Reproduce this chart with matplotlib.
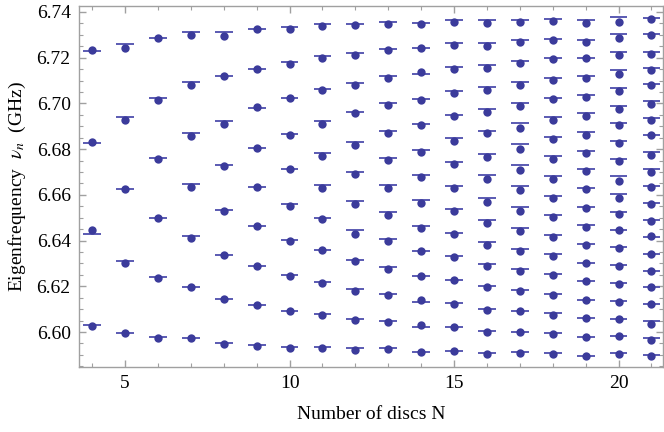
import matplotlib
matplotlib.use("Agg")
import matplotlib.pyplot as plt
from matplotlib.ticker import MultipleLocator, FixedLocator

plt.rcParams['font.family'] = ['Liberation Serif', 'DejaVu Serif']
plt.rcParams['mathtext.fontset'] = 'stix'

# Number of discs
disc_counts = list(range(4, 22))

# Measured eigenfrequencies (GHz), one list per N
meas_04 = [6.7232, 6.6830, 6.6447, 6.6026]
meas_05 = [6.7244, 6.6929, 6.6624, 6.6304, 6.5994]
meas_06 = [6.7285, 6.7013, 6.6758, 6.6498, 6.6236, 6.5975]
meas_07 = [6.7301, 6.7079, 6.6859, 6.6634, 6.6412, 6.6197, 6.5973]
meas_08 = [6.7296, 6.7121, 6.6910, 6.6726, 6.6529, 6.6337, 6.6145, 6.5947]
meas_09 = [6.7326, 6.7152, 6.6983, 6.6806, 6.6633, 6.6462, 6.6288, 6.6118, 6.5940]
meas_10 = [6.7327, 6.7174, 6.7022, 6.6863, 6.6711, 6.6550, 6.6396, 6.6243, 6.6093, 6.5932]
meas_11 = [6.7339, 6.7197, 6.7060, 6.6908, 6.6771, 6.6628, 6.6493, 6.6358, 6.6216, 6.6074, 6.5932]
meas_12 = [6.7342, 6.7210, 6.7081, 6.6957, 6.6816, 6.6691, 6.6558, 6.6428, 6.6310, 6.6179, 6.6054, 6.5922]
meas_13 = [6.7347, 6.7232, 6.7110, 6.6994, 6.6869, 6.6751, 6.6630, 6.6510, 6.6398, 6.6277, 6.6162,
           6.6043, 6.5924]
meas_14 = [6.7347, 6.7244, 6.7137, 6.7013, 6.6905, 6.6786, 6.6678, 6.6564, 6.6456, 6.6353, 6.6245,
           6.6138, 6.6029, 6.5911]
meas_15 = [6.7358, 6.7257, 6.7151, 6.7046, 6.6943, 6.6835, 6.6736, 6.6628, 6.6529, 6.6430, 6.6326,
           6.6227, 6.6124, 6.6020, 6.5915]
meas_16 = [6.7352, 6.7253, 6.7156, 6.7060, 6.6964, 6.6870, 6.6767, 6.6668, 6.6570, 6.6475, 6.6380,
           6.6290, 6.6198, 6.6097, 6.6001, 6.5905]
meas_17 = [6.7356, 6.7270, 6.7178, 6.7082, 6.6989, 6.6894, 6.6799, 6.6710, 6.6622, 6.6528, 6.6442,
           6.6353, 6.6265, 6.6179, 6.6090, 6.5998, 6.5908]
meas_18 = [6.7361, 6.7277, 6.7193, 6.7102, 6.7019, 6.6929, 6.6846, 6.6757, 6.6671, 6.6586, 6.6501,
           6.6414, 6.6332, 6.6248, 6.6162, 6.6075, 6.5991, 6.5905]
meas_19 = [6.7352, 6.7270, 6.7200, 6.7110, 6.7027, 6.6946, 6.6863, 6.6784, 6.6704, 6.6624, 6.6542,
           6.6461, 6.6380, 6.6302, 6.6221, 6.6138, 6.6061, 6.5979, 6.5893]
meas_20 = [6.7356, 6.7285, 6.7210, 6.7130, 6.7056, 6.6977, 6.6904, 6.6825, 6.6749, 6.6662, 6.6587,
           6.6515, 6.6446, 6.6366, 6.6287, 6.6210, 6.6132, 6.6056, 6.5984, 6.5905]
meas_21 = [6.7369, 6.7299, 6.7218, 6.7145, 6.7079, 6.6999, 6.6926, 6.6862, 6.6776, 6.6701, 6.6634,
           6.6558, 6.6485, 6.6421, 6.6342, 6.6267, 6.6199, 6.6122, 6.6036, 6.5966, 6.5897]

# Calculated eigenfrequencies (GHz), one list per N
theo_04 = [6.7228, 6.6827, 6.6428, 6.6029]
theo_05 = [6.7261, 6.6942, 6.6627, 6.6312, 6.5995]
theo_06 = [6.7288, 6.7022, 6.6761, 6.6500, 6.6239, 6.5978]
theo_07 = [6.7314, 6.7092, 6.6869, 6.6646, 6.6421, 6.6199, 6.5975]
theo_08 = [6.7312, 6.7118, 6.6923, 6.6729, 6.6533, 6.6338, 6.6145, 6.5950]
theo_09 = [6.7326, 6.7152, 6.6980, 6.6806, 6.6633, 6.6462, 6.6288, 6.6117, 6.5943]
theo_10 = [6.7334, 6.7180, 6.7025, 6.6866, 6.6711, 6.6558, 6.6404, 6.6249, 6.6094, 6.5935]
theo_11 = [6.7349, 6.7206, 6.7064, 6.6923, 6.6781, 6.6641, 6.6500, 6.6358, 6.6218, 6.6077, 6.5935]
theo_12 = [6.7349, 6.7221, 6.7091, 6.6961, 6.6831, 6.6701, 6.6573, 6.6445, 6.6315, 6.6186, 6.6058, 6.5928]
theo_13 = [6.7358, 6.7238, 6.7120, 6.7000, 6.6881, 6.6761, 6.6643, 6.6523, 6.6405, 6.6286, 6.6167,
           6.6048, 6.5928]
theo_14 = [6.7352, 6.7241, 6.7130, 6.7019, 6.6908, 6.6798, 6.6687, 6.6576, 6.6465, 6.6354, 6.6243,
           6.6132, 6.6021, 6.5912]
theo_15 = [6.7365, 6.7264, 6.7158, 6.7056, 6.6951, 6.6850, 6.6744, 6.6640, 6.6536, 6.6434, 6.6331,
           6.6227, 6.6125, 6.6021, 6.5919]
theo_16 = [6.7364, 6.7264, 6.7167, 6.7070, 6.6975, 6.6878, 6.6780, 6.6685, 6.6585, 6.6490, 6.6393,
           6.6296, 6.6201, 6.6100, 6.6004, 6.5909]
theo_17 = [6.7366, 6.7277, 6.7187, 6.7095, 6.7003, 6.6913, 6.6821, 6.6729, 6.6639, 6.6547, 6.6455,
           6.6364, 6.6274, 6.6182, 6.6091, 6.6000, 6.5911]
theo_18 = [6.7369, 6.7283, 6.7199, 6.7111, 6.7025, 6.6940, 6.6854, 6.6768, 6.6682, 6.6596, 6.6510,
           6.6424, 6.6340, 6.6253, 6.6167, 6.6081, 6.5997, 6.5909]
theo_19 = [6.7364, 6.7279, 6.7200, 6.7118, 6.7038, 6.6957, 6.6873, 6.6793, 6.6711, 6.6630, 6.6548,
           6.6468, 6.6386, 6.6304, 6.6223, 6.6141, 6.6061, 6.5979, 6.5896]
theo_20 = [6.7380, 6.7302, 6.7223, 6.7146, 6.7067, 6.6990, 6.6913, 6.6834, 6.6757, 6.6681, 6.6602,
           6.6525, 6.6447, 6.6370, 6.6291, 6.6214, 6.6137, 6.6059, 6.5982, 6.5906]
theo_21 = [6.7374, 6.7305, 6.7226, 6.7155, 6.7083, 6.7009, 6.6935, 6.6863, 6.6786, 6.6711, 6.6639,
           6.6564, 6.6490, 6.6417, 6.6342, 6.6269, 6.6197, 6.6122, 6.6048, 6.5973, 6.5899]

measured = [meas_04, meas_05, meas_06, meas_07, meas_08, meas_09, meas_10, meas_11, meas_12,
            meas_13, meas_14, meas_15, meas_16, meas_17, meas_18, meas_19, meas_20, meas_21]
theory = [theo_04, theo_05, theo_06, theo_07, theo_08, theo_09, theo_10, theo_11, theo_12,
          theo_13, theo_14, theo_15, theo_16, theo_17, theo_18, theo_19, theo_20, theo_21]

fig = plt.figure(figsize=(6.64, 4.32), dpi=100)
ax = fig.add_axes([0.119, 0.1505, 0.8795, 0.8355])

half = 0.27
line_color = '#5a5ab2'
dot_color = '#3b3b9b'
for n, th, me in zip(disc_counts, theory, measured):
    ax.hlines(th, n - half, n + half, colors=line_color, linewidth=1.4, zorder=2)
    ax.plot([n] * len(me), me, 'o', color=dot_color, markersize=6.0,
            markeredgewidth=0, zorder=3)

ax.set_xlim(3.6, 21.35)
ax.set_ylim(6.5847, 6.7426)

ax.xaxis.set_major_locator(FixedLocator([5, 10, 15, 20]))
ax.xaxis.set_minor_locator(FixedLocator([n for n in disc_counts if n % 5 != 0]))
ax.yaxis.set_major_locator(MultipleLocator(0.02))
ax.yaxis.set_minor_locator(MultipleLocator(0.005))
ax.yaxis.set_major_formatter(matplotlib.ticker.FormatStrFormatter('%.2f'))

frame_color = '#a0a0a0'
for s in ax.spines.values():
    s.set_color(frame_color)
    s.set_linewidth(1.0)
ax.tick_params(which='both', direction='in', top=True, right=True,
               color=frame_color, labelsize=14, labelcolor='black')
ax.tick_params(which='major', length=5, width=1.0, pad=6)
ax.tick_params(which='minor', length=3, width=0.8)

ax.set_xlabel('Number of discs N', fontsize=14, labelpad=10)
ax.set_ylabel(r'Eigenfrequency  $\nu_n$  (GHz)', fontsize=14, labelpad=6)

fig.savefig('out.png', dpi=100)
